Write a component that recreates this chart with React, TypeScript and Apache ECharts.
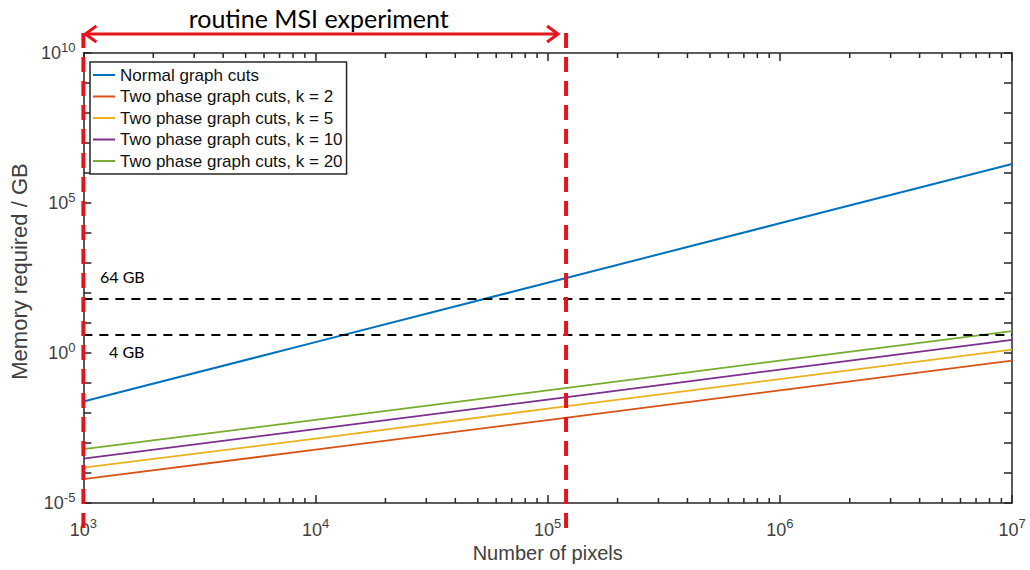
import { useEffect, useRef } from "react";
import * as echarts from "echarts";

// ---- data ----
const pixels = [1e3, 1e4, 1e5, 1e6, 1e7];
const normalGraphCuts = [0.024, 2.3, 220, 2.1e4, 2.0e6];
const twoPhaseK2 = [6.2e-5, 6.0e-4, 5.8e-3, 5.7e-2, 0.56];
const twoPhaseK5 = [1.5e-4, 1.4e-3, 1.4e-2, 0.135, 1.3];
const twoPhaseK10 = [3.0e-4, 2.9e-3, 2.8e-2, 0.28, 2.75];
const twoPhaseK20 = [6.2e-4, 5.9e-3, 5.7e-2, 0.56, 5.4];

const seriesNames = [
  "Normal graph cuts",
  "Two phase graph cuts, k = 2",
  "Two phase graph cuts, k = 5",
  "Two phase graph cuts, k = 10",
  "Two phase graph cuts, k = 20",
];
const seriesColors = ["#0072BD", "#D95319", "#EDB120", "#7E2F8E", "#77AC30"];
const seriesValues = [normalGraphCuts, twoPhaseK2, twoPhaseK5, twoPhaseK10, twoPhaseK20];

const memoryLimits = [64, 4];
const memoryLimitLabels = ["64 GB", "4 GB"];
const msiRange = [1e3, 1.2e5];
const msiLabel = "routine MSI experiment";

const xMin = 1e3;
const xMax = 1e7;
const yMin = 1e-5;
const yMax = 1e10;

const FONT = "'Liberation Sans', Arial, sans-serif";
const AXIS_COLOR = "#262626";
const LABEL_COLOR = "#404040";
const RED = "#E5141C";

// minor tick positions for the log x axis (2..9 x each decade)
const xMinorTicks: number[] = [];
for (let d = 3; d < 7; d++) {
  for (let m = 2; m <= 9; m++) xMinorTicks.push(m * Math.pow(10, d));
}

export default function App() {
  const ref = useRef<HTMLDivElement>(null);

  useEffect(() => {
    if (!ref.current) return;
    const chart = echarts.init(ref.current, null, { renderer: "svg" });

    const rich = {
      b: { fontSize: 18, color: LABEL_COLOR, fontFamily: FONT },
      s: { fontSize: 13, color: LABEL_COLOR, fontFamily: FONT, padding: [0, 0, 12, 0] },
    };
    const powLabel = (v: number) => {
      const e = Math.round(Math.log10(v));
      return `{b|10}{s|${e}}`;
    };

    const lineSeries = seriesNames.map((name, i) => ({
      name,
      type: "line",
      xAxisIndex: 0,
      yAxisIndex: 0,
      data: pixels.map((p, j) => [p, seriesValues[i][j]]),
      showSymbol: false,
      symbol: "none",
      lineStyle: { color: seriesColors[i], width: i === 0 ? 2 : 1.8 },
      itemStyle: { color: seriesColors[i] },
      z: 3,
      ...(i === 0
        ? {
            markLine: {
              silent: true,
              symbol: "none",
              label: { show: false },
              lineStyle: { color: "#000", type: [9, 7], width: 1.8 },
              data: memoryLimits.map((m) => ({ yAxis: m })),
            },
          }
        : {}),
    }));

    chart.setOption({
      animation: false,
      backgroundColor: "#fff",
      grid: { left: 80, top: 53, width: 932, height: 450, containLabel: false },
      legend: {
        data: seriesNames.map((n) => ({ name: n, icon: "rect" })),
        orient: "vertical",
        left: 90,
        top: 62,
        backgroundColor: "#fff",
        borderColor: AXIS_COLOR,
        borderWidth: 1.5,
        borderRadius: 0,
        padding: [4, 4, 4, 3],
        itemWidth: 22,
        itemHeight: 2,
        itemGap: 3.5,
        textStyle: { fontSize: 17, color: "#111", fontFamily: FONT, lineHeight: 18 },
        selectedMode: false,
      },
      xAxis: [
        {
          type: "log",
          logBase: 10,
          min: xMin,
          max: xMax,
          interval: 1,
          name: "Number of pixels",
          nameLocation: "middle",
          nameGap: 40,
          nameTextStyle: { fontSize: 20, color: LABEL_COLOR, fontFamily: FONT },
          axisLine: { lineStyle: { color: AXIS_COLOR, width: 1.5 } },
          axisTick: { inside: true, length: 8, lineStyle: { color: AXIS_COLOR, width: 1.5 } },
          axisLabel: { formatter: powLabel, rich, margin: 14, fontSize: 18, color: LABEL_COLOR, fontFamily: FONT },
          splitLine: { show: false },
        },
        {
          type: "log",
          logBase: 10,
          min: xMin,
          max: xMax,
          interval: 1,
          position: "top",
          axisLine: { lineStyle: { color: AXIS_COLOR, width: 1.5 } },
          axisTick: { inside: true, length: 8, lineStyle: { color: AXIS_COLOR, width: 1.5 } },
          axisLabel: { show: false },
          splitLine: { show: false },
        },
      ],
      yAxis: [
        {
          type: "log",
          logBase: 10,
          min: yMin,
          max: yMax,
          interval: 1,
          name: "Memory required / GB",
          nameLocation: "middle",
          nameGap: 48,
          nameTextStyle: { fontSize: 22, color: LABEL_COLOR, fontFamily: FONT, padding: [0, 0, 0, 13] },
          axisLine: { lineStyle: { color: AXIS_COLOR, width: 1.5 } },
          axisTick: { inside: true, length: 8, lineStyle: { color: AXIS_COLOR, width: 1.5 } },
          axisLabel: {
            formatter: (v: number) => {
              const e = Math.round(Math.log10(v));
              return e % 5 === 0 ? powLabel(v) : "";
            },
            rich,
            margin: 8,
            fontSize: 18,
            color: LABEL_COLOR,
            fontFamily: FONT,
          },
          splitLine: { show: false },
        },
        {
          type: "log",
          logBase: 10,
          min: yMin,
          max: yMax,
          interval: 1,
          position: "right",
          axisLine: { lineStyle: { color: AXIS_COLOR, width: 1.5 } },
          axisTick: { inside: true, length: 8, lineStyle: { color: AXIS_COLOR, width: 1.5 } },
          axisLabel: { show: false },
          splitLine: { show: false },
        },
      ],
      series: [
        ...lineSeries,
        {
          type: "custom",
          name: "minorTicks",
          xAxisIndex: 0,
          yAxisIndex: 0,
          silent: true,
          clip: false,
          data: xMinorTicks.map((v) => [v, 1]),
          renderItem: (params: any, api: any) => {
            const x = api.coord([api.value(0), 1])[0];
            const cs = params.coordSys;
            const st = { stroke: AXIS_COLOR, lineWidth: 1.5 };
            return {
              type: "group",
              children: [
                { type: "line", shape: { x1: x, y1: cs.y + cs.height, x2: x, y2: cs.y + cs.height - 5 }, style: st },
                { type: "line", shape: { x1: x, y1: cs.y, x2: x, y2: cs.y + 5 }, style: st },
              ],
            };
          },
          z: 2,
        },
      ],
    });

    const px = (v: number) => chart.convertToPixel({ xAxisIndex: 0 }, v) as number;
    const py = (v: number) => chart.convertToPixel({ yAxisIndex: 0 }, v) as number;
    const xL = px(msiRange[0]);
    const xR = px(msiRange[1]);
    const yArrow = 34;
    const redLine = { stroke: RED, lineWidth: 4, lineDash: [15, 9] };
    const noteFont = "Lato, 'Open Sans', sans-serif";

    chart.setOption({
      graphic: [
        { type: "line", z: 100, shape: { x1: xL, y1: 33, x2: xL, y2: 535 }, style: redLine },
        { type: "line", z: 100, shape: { x1: xR, y1: 33, x2: xR, y2: 535 }, style: redLine },
        {
          type: "line",
          z: 100,
          shape: { x1: xL + 2, y1: yArrow, x2: xR - 8, y2: yArrow },
          style: { stroke: RED, lineWidth: 3 },
        },
        {
          type: "polyline",
          z: 100,
          shape: { points: [[xL + 13, yArrow - 8], [xL + 2, yArrow], [xL + 13, yArrow + 8]] },
          style: { stroke: RED, lineWidth: 3, fill: "none" },
        },
        {
          type: "polyline",
          z: 100,
          shape: { points: [[xR - 19, yArrow - 8], [xR - 8, yArrow], [xR - 19, yArrow + 8]] },
          style: { stroke: RED, lineWidth: 3, fill: "none" },
        },
        {
          type: "text",
          z: 100,
          x: (xL + xR) / 2 - 6,
          y: 18,
          style: {
            text: msiLabel,
            fontSize: 25,
            fontFamily: noteFont,
            fill: "#000",
            textAlign: "center",
            textVerticalAlign: "middle",
          },
        },
        {
          type: "text",
          z: 100,
          x: 100,
          y: py(memoryLimits[0]) - 22,
          style: {
            text: memoryLimitLabels[0],
            fontSize: 16,
            fontFamily: noteFont,
            fill: "#000",
            textAlign: "left",
            textVerticalAlign: "middle",
          },
        },
        {
          type: "text",
          z: 100,
          x: 109,
          y: py(memoryLimits[1]) + 17,
          style: {
            text: memoryLimitLabels[1],
            fontSize: 16,
            fontFamily: noteFont,
            fill: "#000",
            textAlign: "left",
            textVerticalAlign: "middle",
          },
        },
      ],
    });

    return () => chart.dispose();
  }, []);

  return <div ref={ref} style={{ position: "absolute", left: 0, top: 0, width: 1030, height: 570 }} />;
}
